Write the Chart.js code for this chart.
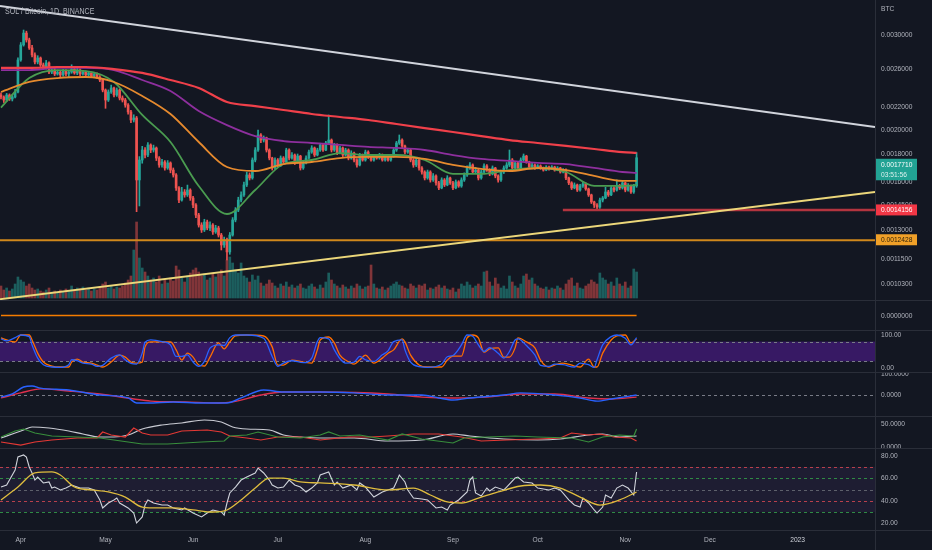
<!DOCTYPE html>
<html>
<head>
<meta charset="utf-8">
<script src="https://cdn.jsdelivr.net/npm/chart.js@4.4.1/dist/chart.umd.min.js"></script>
<style>
  html, body { margin: 0; padding: 0; background: #131722; }
  #wrap { position: relative; width: 932px; height: 550px; overflow: hidden; background: #131722; }
  canvas { position: absolute; left: 0; }
  .hsep { position: absolute; left: 0; width: 932px; height: 1px; background: #2a2e39; }
  .vsep { position: absolute; top: 0; left: 875px; width: 1px; height: 550px; background: #2a2e39; }
</style>
</head>
<body>
<div id="wrap">
  <canvas id="cMain" width="932" height="300" style="top:0"></canvas>
  <canvas id="cZero" width="932" height="29" style="top:301px"></canvas>
  <canvas id="cStoch" width="932" height="41" style="top:331px"></canvas>
  <canvas id="cMacd" width="932" height="43" style="top:373px"></canvas>
  <canvas id="cDmi" width="932" height="31" style="top:417px"></canvas>
  <canvas id="cRsi" width="932" height="101" style="top:449px"></canvas>
  <div class="hsep" style="top:300px"></div>
  <div class="hsep" style="top:330px"></div>
  <div class="hsep" style="top:372px"></div>
  <div class="hsep" style="top:416px"></div>
  <div class="hsep" style="top:448px"></div>
  <div class="hsep" style="top:530px"></div>
  <div class="vsep"></div>
</div>
<script>
// SOL/BTC daily, day 0 = 2022-03-25, prices in micro-BTC (1e-6 BTC)
const closes = [
  2299,2269,2319,2279,2299,2349,2695,2875,3025,2937,
  2838,2754,2672,2718,2638,2604,2661,2559,2581,2538,
  2559,2527,2570,2538,2559,2593,2549,2581,2538,2559,
  2527,2549,2516,2538,2505,2473,2369,2269,2349,2390,
  2319,2369,2289,2269,2221,2156,2083,2101,1610,1754,
  1831,1792,1871,1831,1847,1769,1717,1739,1695,1732,
  1680,1645,1556,1477,1529,1510,1542,1490,1446,1385,
  1327,1299,1344,1310,1327,1288,1310,1271,1218,1244,
  1182,1271,1356,1415,1477,1510,1576,1645,1624,1754,
  1831,1953,1911,1928,1831,1769,1695,1754,1717,1769,
  1739,1831,1769,1792,1739,1784,1695,1732,1769,1815,
  1847,1792,1831,1871,1831,1887,1911,1831,1871,1807,
  1847,1792,1831,1769,1807,1754,1717,1792,1754,1815,
  1777,1754,1784,1769,1792,1754,1777,1754,1784,1831,
  1887,1911,1863,1815,1831,1754,1717,1754,1695,1666,
  1624,1666,1610,1638,1590,1556,1610,1576,1624,1590,
  1556,1597,1569,1610,1645,1695,1717,1666,1680,1624,
  1666,1710,1680,1652,1695,1638,1610,1666,1695,1717,
  1754,1695,1732,1695,1754,1784,1739,1702,1717,1695,
  1710,1695,1680,1702,1688,1702,1680,1695,1666,1680,
  1624,1590,1556,1576,1542,1569,1583,1549,1510,1465,
  1446,1433,1477,1490,1529,1510,1556,1542,1569,1556,
  1590,1542,1569,1529,1569,1771
];
const firstOpen = 2319;
const highs = [
  2340,2310,2335,2330,2320,2375,2720,2905,3065,3050,
  2960,2870,2780,2745,2730,2660,2690,2675,2600,2600,
  2580,2575,2590,2585,2575,2640,2610,2600,2595,2575,
  2570,2565,2560,2555,2550,2520,2485,2380,2370,2420,
  2400,2390,2380,2310,2285,2235,2170,2130,2115,1780,
  1860,1850,1890,1880,1870,1855,1780,1760,1750,1750,
  1740,1695,1655,1565,1560,1545,1575,1550,1500,1455,
  1395,1340,1360,1355,1345,1335,1325,1320,1280,1260,
  1255,1285,1370,1430,1495,1530,1595,1665,1660,1770,
  1850,1995,1965,1945,1935,1840,1775,1770,1765,1785,
  1780,1845,1840,1810,1800,1800,1790,1745,1785,1830,
  1865,1855,1845,1885,1880,1900,2128,1920,1885,1880,
  1860,1855,1845,1840,1825,1815,1765,1805,1800,1830,
  1825,1785,1795,1795,1805,1800,1790,1785,1795,1845,
  1900,1953,1920,1870,1845,1840,1765,1770,1760,1705,
  1675,1680,1675,1655,1645,1600,1625,1620,1640,1630,
  1600,1610,1605,1625,1660,1710,1735,1725,1700,1690,
  1680,1725,1720,1690,1710,1700,1645,1680,1710,1735,
  1831,1765,1745,1740,1770,1800,1790,1745,1730,1725,
  1720,1718,1702,1712,1708,1712,1708,1705,1700,1690,
  1688,1630,1598,1590,1582,1580,1600,1590,1555,1515,
  1470,1455,1490,1500,1560,1540,1570,1565,1610,1580,
  1605,1595,1585,1575,1580,1811
];
const lows = [
  2280,2245,2255,2265,2260,2290,2340,2680,2860,2910,
  2820,2730,2650,2650,2620,2585,2590,2540,2540,2520,
  2525,2505,2515,2520,2500,2545,2535,2530,2520,2525,
  2510,2515,2500,2505,2490,2455,2350,2190,2255,2335,
  2300,2305,2270,2250,2200,2135,2060,2065,1405,1440,
  1730,1770,1780,1810,1815,1750,1700,1700,1680,1685,
  1660,1630,1540,1460,1470,1495,1500,1475,1430,1370,
  1315,1285,1290,1300,1295,1275,1280,1260,1192,1205,
  1142,1170,1265,1345,1405,1465,1500,1565,1610,1615,
  1740,1820,1890,1895,1815,1755,1680,1685,1700,1705,
  1725,1730,1755,1760,1720,1730,1680,1685,1725,1760,
  1805,1780,1785,1820,1820,1825,1880,1815,1820,1795,
  1800,1780,1785,1755,1760,1740,1700,1710,1745,1745,
  1765,1745,1745,1760,1760,1745,1745,1745,1745,1775,
  1820,1875,1850,1800,1805,1740,1700,1705,1680,1650,
  1610,1615,1595,1600,1575,1545,1550,1565,1570,1580,
  1545,1550,1560,1560,1600,1635,1685,1655,1655,1610,
  1615,1655,1670,1640,1645,1625,1595,1600,1655,1685,
  1705,1685,1685,1685,1690,1745,1730,1690,1695,1685,
  1688,1685,1672,1675,1680,1682,1672,1675,1658,1660,
  1612,1578,1545,1550,1532,1535,1560,1540,1500,1455,
  1430,1415,1425,1465,1485,1500,1505,1530,1535,1545,
  1548,1530,1535,1520,1520,1560
];
const volumes = [
  12,8,10,7,9,14,21,18,16,12,
  14,10,8,9,7,6,8,10,6,7,
  5,8,6,9,7,12,8,10,9,11,
  8,10,7,9,8,11,14,16,10,12,
  9,11,10,12,15,18,22,48,76,40,
  30,26,22,18,20,16,22,14,18,15,
  20,17,32,28,20,16,22,25,28,30,
  26,22,24,18,20,25,21,24,28,22,
  38,41,35,28,25,35,22,20,16,23,
  18,22,15,12,14,18,15,12,10,14,
  12,16,11,13,10,12,14,10,9,12,
  14,11,9,13,10,16,25,18,14,12,
  10,13,11,9,12,10,14,12,9,11,
  12,33,14,10,9,11,8,10,12,14,
  16,13,12,10,9,14,12,10,13,12,
  14,8,10,9,11,13,10,12,9,8,
  10,6,9,14,12,16,13,10,12,14,
  12,26,27,16,12,20,14,10,12,9,
  22,16,12,10,14,22,24,18,20,14,
  12,10,9,11,8,10,9,12,10,8,
  14,18,20,12,15,10,9,12,14,18,
  16,14,25,20,18,14,16,12,20,14,
  12,16,10,12,29,26
];

// moving averages every 10 days
const maDays = [0,10,20,30,40,50,60,70,80,90,100,110,120,130,140,150,160,170,180,190,200,210,220,225];
const ma20  = [2197,2494,2581,2570,2452,2128,1895,1569,1391,1542,1724,1754,1807,1792,1792,1754,1652,1652,1680,1695,1666,1569,1569,1576];
const ma50  = [2349,2452,2494,2505,2452,2309,2137,1895,1702,1673,1724,1739,1769,1777,1777,1762,1717,1688,1673,1695,1680,1638,1604,1604];
const ma100 = [2581,2581,2604,2604,2581,2473,2359,2165,2038,1944,1903,1887,1871,1855,1847,1831,1792,1762,1747,1732,1724,1695,1666,1659];
const ma200 = [2604,2604,2615,2615,2592,2549,2473,2390,2250,2211,2174,2137,2110,2083,2047,2012,1978,1944,1911,1887,1863,1839,1815,1808];

// drawn trend lines and levels
const edgeDays = [-0.35, 309.4];
const upperTrend = [3398, 2021];
const lowerTrend = [965, 1529];
const supportDays = [198.9, 309.4];
const supportLevel = 1415.6;
const orangeLevel = 1242.8;
const countdown = '03:51:56';

// indicator panels
const zeroDays = [0, 225];
const zeroVals = [0, 0];

const stochDays = [0,2,5,7,10,11,13,15,18,21,24,25,27,29,32,34,36,39,42,44,46,48,50,51,53,57,60,62,64,66,68,70,72,74,77,79,81,83,87,93,96,98,100,103,107,110,112,113,116,118,120,122,125,127,129,132,135,137,139,142,143,145,148,151,156,158,160,163,165,167,169,171,173,176,178,180,182,183,186,189,191,194,196,199,203,205,208,210,211,213,216,218,221,223,225];
const stochK = [88,82,92,100,95,70,30,10,3,2,10,25,22,15,12,5,8,30,40,25,14,12,45,78,85,80,70,35,35,40,18,5,20,60,70,68,92,100,100,90,35,5,15,22,16,30,80,92,88,55,28,15,18,35,25,20,40,52,80,85,55,18,4,2,12,34,38,70,100,96,70,50,62,45,30,50,85,88,68,40,8,5,12,10,3,15,10,2,25,70,95,100,90,70,92];
const stochD = [91,85,79,100,100,85,45,18,6,3,3,18,27,18,15,9,3,18,39,33,18,15,18,64,79,79,79,55,24,45,33,9,6,33,76,58,79,97,100,97,64,9,9,24,18,15,55,85,94,76,39,24,12,24,39,15,30,45,55,88,79,39,9,3,3,24,36,36,91,100,91,48,58,61,33,33,61,91,79,61,24,3,9,15,6,3,27,3,3,45,85,97,100,76,88];

const macdDays = [0,4,8,11,14,24,35,45,48,52,61,71,80,85,93,100,113,125,137,149,155,160,166,178,184,196,205,211,216,225];
const macdVals = [-10,5,38,43,33,24,0,-14,-38,-38,-33,-38,-38,-14,24,14,14,10,0,0,-14,-24,-14,0,10,0,-14,-29,-19,0];
const signalDays = [0,7,14,24,35,47,53,65,77,82,92,100,113,137,149,160,172,184,196,208,216,225];
const signalVals = [-14,10,29,19,5,-19,-29,-33,-38,-33,0,14,14,5,-10,-14,-10,5,5,-14,-19,-10];

const adxDays = [0,5,8,11,17,24,29,35,40,45,50,57,64,72,78,82,87,95,100,106,113,125,137,149,160,166,178,190,198,208,213,219,225];
const adxVals = [19.6,30.4,37,43.5,41.3,34.8,28.3,21.7,21.7,26.1,39.1,47.8,52.2,58.7,54.3,43.5,39.1,37,26.1,21.7,19.6,19.6,13,15.2,28.3,23.9,17.4,15.2,17.4,26.1,28.3,21.7,23.9];
const plusDays = [0,5,8,12,18,27,35,40,50,59,71,79,81,87,91,98,106,113,116,120,127,137,142,149,160,164,172,182,190,202,208,213,219,224,225];
const plusVals = [21.7,34.8,39.1,30.4,23.9,21.7,19.6,15.2,6.5,6.5,10.9,13,23.9,26.1,32.6,21.7,19.6,26.1,32.6,23.9,26.1,15.2,28.3,17.4,8.7,19.6,21.7,23.9,21.7,19.6,10.9,21.7,26.1,23.9,39.1];
const minusDays = [0,7,12,18,27,34,36,39,44,47,50,53,59,64,73,78,81,87,92,98,106,113,123,131,137,146,155,163,170,179,190,198,202,208,212,217,223,225];
const minusVals = [10.9,4.3,10.9,15.2,19.6,19.6,32.6,26.1,21.7,41.3,30.4,26.1,26.1,34.8,37,32.6,23.9,19.6,15.2,21.7,21.7,15.2,21.7,21.7,23.9,28.3,28.3,21.7,13,15.2,17.4,19.6,30.4,26.1,28.3,21.7,19.6,13];

const rsiDays = [0,2,5,6,8,9,10,11,12,13,15,17,18,19,21,23,25,27,28,31,33,35,36,38,40,41,42,45,47,48,50,51,52,54,57,59,61,64,65,68,71,73,75,78,79,80,81,83,85,87,90,91,93,95,96,98,100,102,104,106,108,110,112,113,116,118,119,121,124,126,127,129,132,135,137,139,140,141,143,144,146,149,151,154,156,158,159,162,165,166,167,168,170,172,173,175,178,179,182,183,185,188,190,194,196,198,201,203,205,206,208,210,211,213,214,216,218,220,222,224,225];
const rsiVals = [52.2,54,67.3,78.9,80.7,78.9,70,64.7,58.4,61,55.8,56.7,51.3,52.2,49.6,51.3,54,52.2,51.3,51.3,49.6,40.7,33.6,38,40.7,42.4,38,33.6,29.1,20.2,25.6,36.2,40.7,38,36.2,36.2,33.6,31.8,33.6,29.1,25.6,29.1,31.8,30,27.3,38,46.9,52.2,58.4,61.1,64.7,69.1,64.7,58.4,54,51.3,52.2,58.4,54,52.2,47.8,51.3,55.8,62.9,65.6,54,56.7,51.3,54,49.6,55.8,52.2,43.3,47.8,49.6,51.3,56.7,62.9,56.7,49.6,42.4,41.6,40.7,33.6,34.4,31.8,36.2,40.7,47.8,58.4,61.1,46.9,44.2,51.3,48.7,52.2,49.6,52.2,60.2,61.1,56.7,55.8,51.3,49.6,51.3,49.6,40.7,36.2,34.4,42.4,38,31.8,29.1,34.4,45.1,42.4,51.3,54,51.3,45.1,65.6];
const rsiMaDays = [0,6,12,18,21,26,32,38,44,50,56,61,68,75,80,85,90,95,100,106,113,125,137,146,152,158,163,169,176,184,191,198,205,212,219,225];
const rsiMaVals = [40.7,52.2,64.7,65.6,62.9,52.2,49.6,47.8,43.3,34.4,33.6,33.6,31.8,30,31.8,40.7,51.3,60.2,60.2,56.7,55.8,54,49.6,51.3,45.1,38.9,38,42.4,47.8,53.1,54,51.3,43.3,36.2,40.7,47.8];

// axis labels
const priceTicks = [3000, 2600, 2200, 2000, 1800, 1600, 1450, 1300, 1150, 1030];
const monthLabels = ['Apr', 'May', 'Jun', 'Jul', 'Aug', 'Sep', 'Oct', 'Nov', 'Dec', '2023'];
const monthDays = [7, 37, 68, 98, 129, 160, 190, 221, 251, 282];

const X_MIN = -0.35, X_MAX = 309.4;
const TEXT = '#b2b5be';
const UP = '#26a69a', DOWN = '#ef5350';

function pts(days, vals) { return days.map((d, i) => ({ x: d, y: vals[i] })); }

function txt(ctx, s, x, y, color, align, size) {
  ctx.save();
  ctx.font = (size || 8) + 'px "Liberation Sans", Arial, sans-serif';
  ctx.fillStyle = color;
  ctx.textBaseline = 'middle';
  ctx.textAlign = align || 'left';
  ctx.translate(x, y);
  ctx.scale(0.83, 1);
  ctx.fillText(s, 0, 0);
  ctx.restore();
}

function level(chart, v, color) {
  const { ctx, chartArea: a } = chart;
  const y = Math.round(chart.scales.y.getPixelForValue(v)) + 0.5;
  ctx.save();
  ctx.strokeStyle = color;
  ctx.lineWidth = 1;
  ctx.setLineDash([3, 3]);
  ctx.beginPath(); ctx.moveTo(a.left, y); ctx.lineTo(a.right, y); ctx.stroke();
  ctx.restore();
}

function band(chart, v1, v2, color) {
  const { ctx, chartArea: a } = chart;
  const y1 = chart.scales.y.getPixelForValue(v1), y2 = chart.scales.y.getPixelForValue(v2);
  ctx.save();
  ctx.fillStyle = color;
  ctx.fillRect(a.left, y1, a.right - a.left, y2 - y1);
  ctx.restore();
}

function ticksRight(chart, values, fmt) {
  values.forEach(v => txt(chart.ctx, fmt(v), 881, chart.scales.y.getPixelForValue(v), TEXT));
}

function lineDs(data, color, width, extra) {
  return Object.assign({ type: 'line', data, borderColor: color, borderWidth: width,
    pointRadius: 0, fill: false, tension: 0 }, extra || {});
}

function panel(id, type, datasets, scales, deco, padBottom) {
  return new Chart(document.getElementById(id), {
    type,
    data: { datasets },
    options: {
      responsive: false, animation: false, events: [],
      layout: { padding: { left: 0, right: 57, top: 0, bottom: padBottom || 0 } },
      plugins: { legend: { display: false }, tooltip: { enabled: false } },
      scales: Object.assign({ x: { type: 'linear', min: X_MIN, max: X_MAX, display: false, offset: false } }, scales)
    },
    plugins: [deco]
  });
}

// ---- main price panel
const opens = closes.map((c, i) => i === 0 ? firstOpen : closes[i - 1]);   // 24/7 market: open = prior close
const candleColor = closes.map((c, i) => c >= opens[i] ? UP : DOWN);
const volColor = closes.map((c, i) => c >= opens[i] ? 'rgba(38,166,154,0.5)' : 'rgba(239,83,80,0.5)');
const fmtBtc = v => (v / 1e6).toFixed(7);
const smooth = { cubicInterpolationMode: 'monotone' };

panel('cMain', 'bar', [
  { type: 'bar', yAxisID: 'vol', data: volumes.map((v, i) => ({ x: i, y: v })),
    backgroundColor: volColor, barThickness: 2, grouped: false, order: 20 },
  { type: 'bar', data: closes.map((c, i) => ({ x: i, y: [lows[i], highs[i]] })),
    backgroundColor: candleColor, barThickness: 1, grouped: false, order: 19 },
  { type: 'bar', data: closes.map((c, i) => ({ x: i, y: [opens[i], c] })),
    backgroundColor: candleColor, barThickness: 2, minBarLength: 1, grouped: false, order: 18 },
  lineDs(pts(maDays, ma20), '#4a9c50', 1.8, Object.assign({ order: 9 }, smooth)),
  lineDs(pts(maDays, ma50), '#e68a2e', 1.8, Object.assign({ order: 8 }, smooth)),
  lineDs(pts(maDays, ma100), '#8e2f9e', 1.8, Object.assign({ order: 7 }, smooth)),
  lineDs(pts(maDays, ma200), '#f0404a', 2.2, Object.assign({ order: 6 }, smooth)),
  lineDs(pts(edgeDays, [orangeLevel, orangeLevel]), '#d0881c', 2, { order: 4 }),
  lineDs(pts(supportDays, [supportLevel, supportLevel]), '#b3343f', 2.5, { order: 3 }),
  lineDs(pts(edgeDays, upperTrend), '#d1d4dc', 2, { order: 2 }),
  lineDs(pts(edgeDays, lowerTrend), '#ecd77a', 2, { order: 1 })
], {
  y: { type: 'logarithmic', min: 961.6, max: 3486.5, display: false },
  vol: { type: 'linear', min: -2, max: 298, display: false }
}, {
  id: 'mainDeco',
  afterDraw(chart) {
    const ctx = chart.ctx, y = chart.scales.y;
    txt(ctx, 'SOL / Bitcoin, 1D, BINANCE', 5, 12, '#b2b5be', 'left', 8.5);
    txt(ctx, 'BTC', 881, 9, TEXT);
    ticksRight(chart, priceTicks, fmtBtc);
    const last = closes[closes.length - 1];
    const boxes = [
      { v: orangeLevel, bg: '#f0a028', fg: '#2a1e08', lines: [fmtBtc(orangeLevel)], top: y.getPixelForValue(orangeLevel) - 6 },
      { v: supportLevel, bg: '#f23645', fg: '#ffffff', lines: [fmtBtc(supportLevel)], top: y.getPixelForValue(supportLevel) - 5.5 },
      { v: last, bg: '#22a394', fg: '#ffffff', lines: [fmtBtc(last), countdown], top: y.getPixelForValue(last) + 1 }
    ];
    boxes.forEach(b => {
      const h = b.lines.length * 10.5 + 0.5;
      ctx.fillStyle = b.bg;
      ctx.fillRect(875, b.top, 42, h);
      b.lines.forEach((s, k) => txt(ctx, s, 881, b.top + 5.7 + k * 10.5, k ? 'rgba(255,255,255,0.85)' : b.fg));
    });
  }
});

// ---- flat oscillator panel
panel('cZero', 'line', [
  lineDs(pts(zeroDays, zeroVals), '#f57c00', 1.5)
], { y: { type: 'linear', min: -1, max: 1, display: false } }, {
  id: 'zeroDeco',
  afterDraw(chart) { ticksRight(chart, [0], v => v.toFixed(7)); }
});

// ---- stochastic RSI
panel('cStoch', 'line', [
  lineDs(pts(stochDays, stochK), '#2962ff', 1.3, smooth),
  lineDs(pts(stochDays, stochD), '#ff6d00', 1.3, smooth)
], { y: { type: 'linear', min: -12.12, max: 112.12, display: false } }, {
  id: 'stochDeco',
  beforeDatasetsDraw(chart) {
    band(chart, 80, 20, 'rgba(110,30,200,0.4)');
    level(chart, 80, '#787b86');
    level(chart, 20, '#787b86');
  },
  afterDraw(chart) { ticksRight(chart, [100, 0], v => v.toFixed(2)); }
});

// ---- MACD style panel
panel('cMacd', 'line', [
  lineDs(pts(macdDays, macdVals), '#2962ff', 1.4, smooth),
  lineDs(pts(signalDays, signalVals), '#e0304e', 1.4, smooth)
], { y: { type: 'linear', min: -100, max: 104.76, display: false } }, {
  id: 'macdDeco',
  beforeDatasetsDraw(chart) { level(chart, 0, '#787b86'); },
  afterDraw(chart) { ticksRight(chart, [100, 0], v => v.toFixed(4)); }
});

// ---- DMI
panel('cDmi', 'line', [
  lineDs(pts(plusDays, plusVals), '#388e3c', 1.2),
  lineDs(pts(minusDays, minusVals), '#e53935', 1.2),
  lineDs(pts(adxDays, adxVals), '#c8cad2', 1.2, smooth)
], { y: { type: 'linear', min: -2.17, max: 65.22, display: false } }, {
  id: 'dmiDeco',
  afterDraw(chart) { ticksRight(chart, [50, 0], v => v.toFixed(4)); }
});

// ---- RSI with month axis
panel('cRsi', 'line', [
  lineDs(pts(rsiMaDays, rsiMaVals), '#e0bd3e', 1.3, smooth),
  lineDs(pts(rsiDays, rsiVals), '#d1d4dc', 1.1)
], { y: { type: 'linear', min: 14, max: 86, display: false } }, {
  id: 'rsiDeco',
  beforeDatasetsDraw(chart) {
    band(chart, 70, 30, 'rgba(126,87,194,0.1)');
    level(chart, 70, '#b8404c');
    level(chart, 60, '#2f8a45');
    level(chart, 50, '#5d606b');
    level(chart, 40, '#b8404c');
    level(chart, 30, '#2f8a45');
  },
  afterDraw(chart) {
    ticksRight(chart, [80, 60, 40, 20], v => v.toFixed(2));
    const x = chart.scales.x;
    monthLabels.forEach((m, i) => {
      txt(chart.ctx, m, x.getPixelForValue(monthDays[i]), 91, m === '2023' ? '#d1d4dc' : TEXT, 'center');
    });
  }
}, 20);
</script>
</body>
</html>
